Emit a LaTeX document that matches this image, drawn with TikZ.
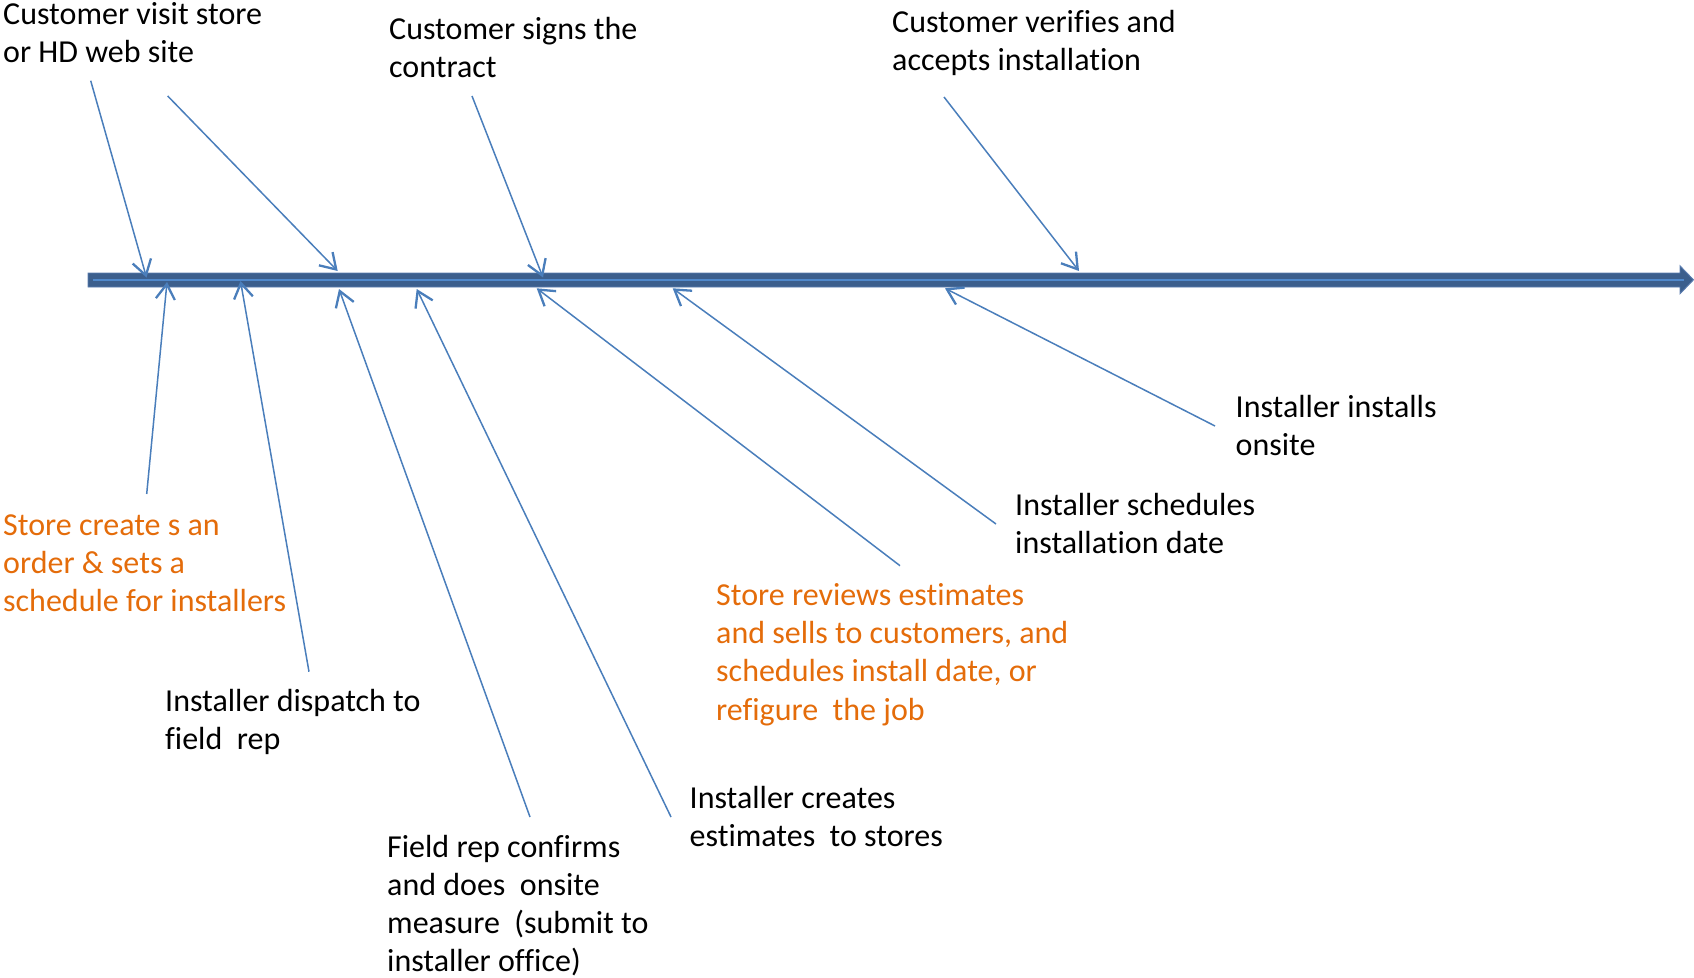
\documentclass[tikz,border=0pt]{standalone}
\usepackage{fontspec}
\setmainfont{Carlito}[Ligatures=NoCommon]
\usetikzlibrary{arrows.meta}
\definecolor{conn}{HTML}{4A7EBB}
\definecolor{barfill}{HTML}{3C5F8D}
\definecolor{baredge}{HTML}{5B7DB0}
\definecolor{barline}{HTML}{5089CC}
\definecolor{orangetxt}{HTML}{E46C0A}
\tikzset{
  lbl/.style={align=left, inner sep=0pt, anchor=base west, font=\fontsize{32}{38.2}\selectfont, text=black},
  olbl/.style={lbl, text=orangetxt},
  connector/.style={draw=conn, line width=1.5pt,
    -{Straight Barb[length=15pt, width=19pt, line width=2.3pt]}},
}
\begin{document}
\begin{tikzpicture}[x=1pt, y=-1pt]
\useasboundingbox (0,0) rectangle (1694,977);
% main timeline arrow
\path[fill=barfill, draw=baredge, line width=0.9pt]
  (88,273) -- (1680,273) -- (1680,265.8) -- (1693.5,279.8) -- (1680,293.8)
  -- (1680,287) -- (88,287) -- cycle;
\coordinate (barA) at (93,280);
\coordinate (barB) at (1684,280);
\draw[barline, line width=2.4pt] (barA) -- (barB);

% labels (anchored at the baseline of their last line)
\node[lbl] (t1) at (3,62.2) {Customer visit store\\or HD web site};
\node[lbl] (t2) at (389,77.2) {Customer signs the\\contract};
\node[lbl] (t3) at (892,70.9) {Customer verifies and\\accepts installation};
\node[lbl] (t4) at (1235.5,455.5) {Installer installs\\onsite};
\node[lbl] (t5) at (1015,553.8) {Installer schedules\\installation date};
\node[olbl] (t6) at (716,720.1) {Store reviews estimates\\and sells to customers, and\\schedules install date, or\\refigure \ the job};
\node[olbl] (t7) at (3,611.4) {Store create s an\\order \& sets a\\schedule for installers};
\node[lbl] (t8) at (165,749.7) {Installer dispatch to\\field \ rep};
\node[lbl] (t9) at (689.5,846.6) {Installer creates\\estimates \ to stores};
\node[lbl] (t10) at (387,971.6) {Field rep confirms\\and does \ onsite\\measure \ (submit to\\installer office)};

% connector end points
\coordinate (s1) at (90.7,80.7);   \coordinate (e1) at (146.5,277.5);
\coordinate (s2) at (167.7,96);    \coordinate (e2) at (337.7,271);
\coordinate (s3) at (472,96);      \coordinate (e3) at (543,277.5);
\coordinate (s4) at (944,97);      \coordinate (e4) at (1079,271);
\coordinate (s5) at (146.7,494);   \coordinate (e5) at (167,282);
\coordinate (s6) at (309,671.7);   \coordinate (e6) at (240.5,281);
\coordinate (s7) at (530,817);     \coordinate (e7) at (339,289);
\coordinate (s8) at (671,817);     \coordinate (e8) at (416.7,289);
\coordinate (s9) at (900,565.7);   \coordinate (e9) at (536.7,288.3);
\coordinate (s10) at (996,524);    \coordinate (e10) at (672.7,288.3);
\coordinate (s11) at (1215,426);   \coordinate (e11) at (945,288.3);

\foreach \i in {1,...,11}{
  \draw[connector] (s\i) -- (e\i);
}
\end{tikzpicture}
\end{document}
